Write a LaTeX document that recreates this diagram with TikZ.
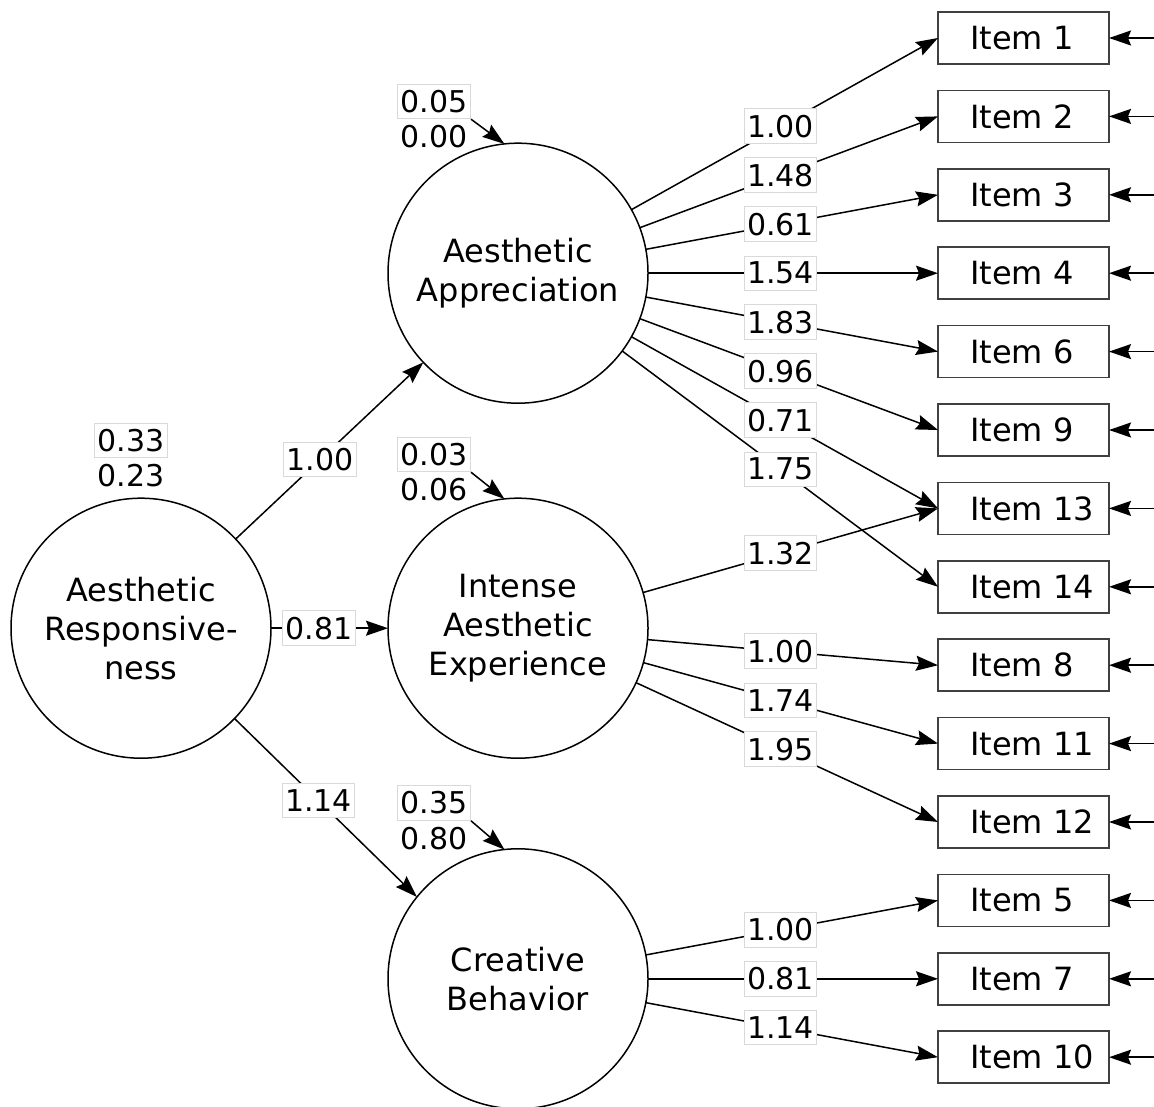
\documentclass[tikz,border=0pt]{standalone}
\usepackage{fontspec}
\setmainfont{DejaVu Sans}
\usetikzlibrary{positioning, calc, arrows.meta}

\tikzset{
  latent/.style={circle, draw, line width=0.75pt, minimum size=130pt, inner sep=0pt, outer sep=0pt, align=center},
  item/.style={draw=black!75, line width=0.75pt, minimum height=26pt, text width=71.5pt,
    inner xsep=7pt, inner ysep=1pt, outer sep=0pt, align=left, execute at begin node={\hspace*{9pt}}},
  lbl/.style={draw=black!15, line width=0.5pt, fill=white, inner xsep=1.5pt, inner ysep=3pt,
    font=\fontsize{15}{18}\selectfont},
  var/.style={inner xsep=1.5pt, inner ysep=3pt, font=\fontsize{15}{18}\selectfont},
  link/.style={line width=0.75pt, -{Stealth[length=11pt, width=7.5pt, inset=1.5pt]}}
}

\begin{document}
\begin{tikzpicture}[x=0.5pt, y=-0.5pt, node distance=13.2pt, font=\fontsize{16}{19.5}\selectfont]
		\useasboundingbox (0,0) rectangle (1154,1106);

		% observed items
		\node[item] (i1) at (1023.5,38) {Item 1};
		\node[item, below=of i1] (i2) {Item 2};
		\node[item, below=of i2] (i3) {Item 3};
		\node[item, below=of i3] (i4) {Item 4};
		\node[item, below=of i4] (i6) {Item 6};
		\node[item, below=of i6] (i9) {Item 9};
		\node[item, below=of i9] (i13) {Item 13};
		\node[item, below=of i13] (i14) {Item 14};
		\node[item, below=of i14] (i8) {Item 8};
		\node[item, below=of i8] (i11) {Item 11};
		\node[item, below=of i11] (i12) {Item 12};
		\node[item, below=of i12] (i5) {Item 5};
		\node[item, below=of i5] (i7) {Item 7};
		\node[item, below=of i7] (i10) {Item 10};

		% latent factors
		\node[latent, left=145pt of i4] (AA) {Aesthetic\\Appreciation};
		\node[latent, below=47.5pt of AA] (IAE) {Intense\\Aesthetic\\Experience};
		\node[latent, left=145pt of i7] (CB) {Creative\\Behavior};
		\node[latent, left=58.5pt of IAE] (AR) {Aesthetic\\Responsive-\\ness};

		% variances
		\node[lbl, above=20pt of AR.north, xshift=-5pt] (vAR) {0.33};
		\node[var, below=0pt of vAR] (vAR2) {0.23};
		\node[lbl, above left=12pt and 23.5pt of AA.north] (vAA) {0.05};
		\node[var, below=0pt of vAA] (vAA2) {0.00};
		\node[lbl, above left=13pt and 23.5pt of IAE.north] (vIAE) {0.03};
		\node[var, below=0pt of vIAE] (vIAE2) {0.06};
		\node[lbl, above left=14pt and 23.5pt of CB.north] (vCB) {0.35};
		\node[var, below=0pt of vCB] (vCB2) {0.80};

		\draw[link] (vAA.south east) -- (AA.96);
		\draw[link] (vIAE.south east) -- (IAE.96);
		\draw[link] (vCB.south east) -- (CB.96);

		% structural paths
		\draw[link] (AR) -- node[lbl, pos=0.45] (b1) {1.00} (AA);
		\draw[link] (AR) -- node[lbl, pos=0.41] (b2) {0.81} (IAE);
		\draw[link] (AR.-44) -- node[lbl, pos=0.46] (b3) {1.14} (CB.141);

		% loadings
		\foreach \f/\i/\w in {AA/1/1.00, AA/2/1.48, AA/3/0.61, AA/4/1.54, AA/6/1.83,
				AA/9/0.96, AA/13/0.71, AA/14/1.75, IAE/13/1.32, IAE/8/1.00, IAE/11/1.74,
				IAE/12/1.95, CB/5/1.00, CB/7/0.81, CB/10/1.14} {
			\draw[link] (\f) -- (i\i.west);
			\node[lbl] (w\f\i) at ($(\f)!0.625!(i\i.west)$) {\w};
		}

		% residuals
		\foreach \i in {1,...,14} {
			\coordinate[right=25pt of i\i.east] (e\i);
			\draw[link] (e\i) -- (i\i.east);
		}
	\end{tikzpicture}
\end{document}
